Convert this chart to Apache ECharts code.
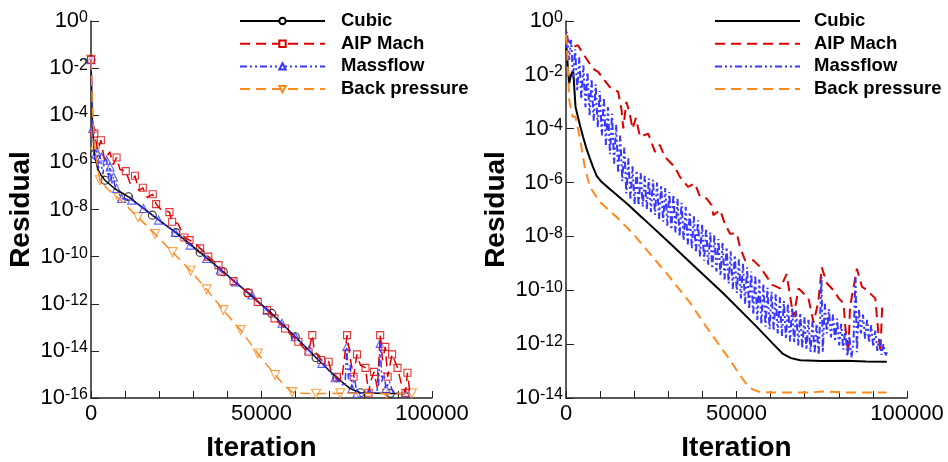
<!DOCTYPE html>
<html><head><meta charset="utf-8">
<script src="https://cdn.jsdelivr.net/npm/echarts@6/dist/echarts.min.js"></script>
<style>html,body{margin:0;padding:0;background:#fff}#c{width:948px;height:462px}</style>
</head><body><div id="c"></div>
<script>
// Each point: [iteration in thousands, log10(residual)]
const xTickLabels = [0, 50000, 100000];
const yTickExponents = [-16, -14, -12, -10, -8, -6, -4, -2, 0];
const legendNames = ['Cubic', 'AIP Mach', 'Massflow', 'Back pressure'];

// ---------- Left panel ----------
const cubicL = [[0,-1.64],[0.4,-4.2],[1.0,-5.66],[2.0,-6.3],[3.0,-6.55],[4.1,-6.76],[7,-7.12],[11,-7.46],[18,-8.24],[24.9,-8.98],[32,-9.82],[38.8,-10.64],[46,-11.54],[53,-12.41],[59.9,-13.4],[66,-14.29],[72.1,-15.14],[76,-15.6],[79,-15.78],[85,-15.8],[92,-15.82]];
const cubicLMarks = [[0,-1.64],[1.0,-5.66],[4.1,-6.76],[11,-7.46],[18,-8.24],[24.9,-8.98],[32,-9.82],[38.8,-10.64],[46,-11.54],[53,-12.41],[59.9,-13.4],[66,-14.29],[72.1,-15.14],[79,-15.78],[87.8,-15.8]];

const aipL = [[0,-1.64],[0.5,-4.2],[1.0,-4.78],[2.0,-5.5],[2.9,-5.06],[4,-5.9],[5.5,-5.55],[6.5,-6.1],[7.5,-5.79],[8.5,-6.3],[10.2,-6.37],[11.5,-6.9],[12.9,-6.57],[14,-7.2],[15.2,-7.08],[16.5,-7.5],[18.1,-7.35],[19.1,-7.77],[20.5,-8.0],[23,-8.11],[23.8,-8.52],[25.5,-8.6],[27.4,-9.19],[28.9,-9.3],[30.5,-9.4],[32,-9.65],[34.4,-10.0],[36,-10.2],[37.4,-10.36],[38.2,-10.64],[40,-10.8],[41.8,-11.04],[44,-11.3],[46.2,-11.54],[48.9,-11.92],[51.6,-12.27],[53.8,-12.62],[56.9,-13.05],[58.5,-13.3],[60.8,-13.61],[62.5,-13.9],[63.8,-14.04],[64.9,-13.33],[65.5,-14.0],[67.5,-14.39],[69.7,-14.46],[70.5,-14.9],[72.1,-15.1],[73.5,-15.3],[75.1,-13.33],[76,-14.3],[77,-15.1],[78,-14.15],[79,-14.6],[80.5,-14.72],[81.4,-15.78],[82,-15.3],[83,-14.89],[84,-15.6],[84.8,-13.33],[85.5,-14.4],[86.3,-13.83],[87,-15.1],[88.3,-14.15],[89.9,-14.72],[91,-15.4],[92.2,-15.78],[92.8,-14.93],[93.5,-15.75]];
const aipLMarks = [[0,-1.64],[1.0,-4.78],[2.9,-5.06],[7.5,-5.79],[10.2,-6.37],[12.9,-6.57],[15.2,-7.08],[18.1,-7.35],[19.1,-7.77],[23,-8.11],[23.8,-8.52],[27.4,-9.19],[28.9,-9.3],[32,-9.65],[34.4,-10.0],[37.4,-10.36],[38.2,-10.64],[41.8,-11.04],[46.2,-11.54],[48.9,-11.92],[51.6,-12.27],[53.8,-12.62],[56.9,-13.05],[60.8,-13.61],[63.8,-14.04],[64.9,-13.33],[67.5,-14.39],[69.7,-14.46],[72.1,-15.1],[75.1,-13.33],[77,-15.1],[78,-14.15],[80.5,-14.72],[81.4,-15.78],[83,-14.89],[84.8,-13.33],[86.3,-13.83],[87,-15.1],[88.3,-14.15],[89.9,-14.72],[92.2,-15.78],[92.8,-14.93]];

const massL = [[0,-1.64],[0.5,-4.56],[1.0,-5.9],[1.5,-5.5],[1.7,-5.55],[2.2,-6.3],[2.6,-5.7],[3.1,-5.77],[3.5,-6.5],[4.0,-5.8],[4.6,-5.91],[5.1,-6.7],[5.6,-6.19],[6.1,-6.9],[6.6,-6.62],[7.0,-7.0],[7.5,-7.11],[9,-7.53],[11.9,-7.6],[15.4,-7.96],[19.8,-8.45],[24.7,-8.97],[29.1,-9.51],[33.9,-10.08],[37.9,-10.57],[42.3,-11.07],[47.2,-11.63],[51.6,-12.27],[56,-12.83],[59.9,-13.4],[63.9,-13.96],[67.7,-14.53],[71.6,-15.14],[73.5,-15.4],[74.5,-15.5],[75,-13.82],[75.5,-15.2],[76,-14.6],[76.5,-15.6],[77.2,-15.1],[78,-15.8],[80,-15.8],[82,-15.7],[83.5,-15.8],[84.3,-15.5],[84.8,-13.68],[85.3,-15.3],[85.9,-14.9],[86.5,-15.6],[87.5,-15.3],[88.5,-15.75],[90,-15.8],[92.2,-15.78],[93,-15.8]];
const massLMarks = [[0,-1.64],[0.5,-4.56],[1.7,-5.55],[3.1,-5.77],[4.6,-5.91],[5.6,-6.19],[6.6,-6.62],[7.5,-7.11],[9,-7.53],[11.9,-7.6],[15.4,-7.96],[19.8,-8.45],[24.7,-8.97],[29.1,-9.51],[33.9,-10.08],[37.9,-10.57],[42.3,-11.07],[47.2,-11.63],[51.6,-12.27],[56,-12.83],[59.9,-13.4],[63.9,-13.96],[67.7,-14.53],[71.6,-15.14],[75,-13.82],[76.5,-15.6],[78,-15.8],[84.8,-13.68],[86.5,-15.6],[92.2,-15.78]];

const backL = [[0,-1.64],[0.5,-4.0],[1.2,-5.55],[2.6,-6.76],[5,-7.15],[8,-7.5],[13.8,-8.33],[18.8,-9.04],[23.9,-9.81],[29.2,-10.6],[33.9,-11.39],[38.8,-12.27],[43.9,-13.12],[48.9,-14.11],[54,-15.03],[57,-15.5],[59,-15.75],[62,-15.8],[66,-15.82],[73.1,-15.8],[79.5,-15.8],[86.7,-15.82],[94.1,-15.8]];
const backLMarks = [[0,-1.64],[1.2,-5.55],[2.6,-6.76],[8,-7.5],[13.8,-8.33],[18.8,-9.04],[23.9,-9.81],[29.2,-10.6],[33.9,-11.39],[38.8,-12.27],[43.9,-13.12],[48.9,-14.11],[54,-15.03],[59,-15.75],[66,-15.82],[73.1,-15.8],[86.7,-15.82],[94.1,-15.8]];

// ---------- Right panel ----------
const cubicR = [[0,-0.75],[0.3,-0.72],[0.9,-2.32],[1.5,-2.0],[2.1,-1.83],[2.8,-3.19],[4.2,-3.93],[5.0,-4.3],[6.0,-4.74],[7.0,-5.1],[7.9,-5.42],[9,-5.75],[10.4,-5.97],[12,-6.15],[13.8,-6.34],[18,-6.8],[22.6,-7.33],[30,-8.2],[36.3,-8.95],[46.1,-10.11],[55.9,-11.35],[60.8,-12.0],[63.5,-12.35],[66,-12.52],[68.7,-12.6],[75,-12.63],[82,-12.62],[88,-12.64],[94.1,-12.65]];

const aipR = [[0,-0.5],[0.3,-0.65],[2.0,-0.96],[3.5,-0.9],[5.0,-1.21],[7.9,-1.77],[9.5,-1.9],[10.9,-2.14],[12.8,-2.45],[15.3,-2.63],[16.3,-3.31],[16.8,-3.99],[17.7,-3.0],[18.7,-3.44],[19.5,-4.0],[20.5,-3.6],[21.7,-4.3],[24.1,-4.18],[26.1,-4.86],[27.5,-4.6],[29.0,-5.05],[31.9,-5.42],[33.4,-5.79],[35.8,-6.16],[37.8,-6.03],[39.3,-6.53],[41.2,-6.59],[42.7,-6.84],[43.2,-7.21],[45.2,-7.02],[46.5,-7.5],[48.1,-7.9],[50.1,-7.89],[51,-8.39],[52.5,-8.88],[54.9,-8.88],[56.9,-9.13],[58.9,-9.5],[60.5,-9.8],[62.8,-9.93],[64.7,-9.4],[66.7,-11.0],[68.2,-9.93],[71.1,-10.3],[72.6,-11.2],[74.0,-10.43],[75.0,-9.15],[76.5,-9.74],[78.4,-9.99],[80,-10.3],[81.4,-10.49],[81.9,-11.35],[82.8,-12.34],[83.3,-10.61],[85.3,-9.2],[86.8,-9.87],[88.2,-9.99],[89.7,-10.18],[90.7,-10.3],[91.7,-11.73],[92.2,-12.3],[92.7,-10.67],[93.1,-10.55]];

const massR = [[0,-1.0],[0.3,-0.4],[0.9,-1.45],[1.5,-0.7],[2.1,-2.1],[2.7,-1.05],[3.3,-2.6],[3.9,-1.35],[4.5,-2.9],[5.1,-1.65],[5.7,-3.2],[6.3,-1.9],[6.9,-3.5],[7.5,-2.15],[8.1,-3.7],[8.7,-2.35],[9.3,-3.95],[9.9,-2.6],[10.5,-4.25],[11.1,-2.85],[11.7,-4.6],[12.3,-3.2],[12.9,-4.95],[13.5,-3.45],[14.1,-5.3],[14.7,-3.85],[15.3,-5.65],[15.9,-4.25],[16.5,-5.95],[17.1,-4.7],[17.7,-6.4],[18.3,-5.1],[18.9,-6.65],[19.5,-5.4],[20.1,-6.8],[20.7,-5.55],[21.3,-6.85],[21.9,-5.65],[22.5,-6.9],[23.1,-5.75],[23.7,-7.0],[24.3,-5.85],[24.9,-7.1],[25.5,-5.9],[26.1,-7.2],[26.7,-6.0],[27.3,-7.35],[27.9,-6.1],[28.5,-7.45],[29.1,-6.2],[29.7,-7.6],[30.3,-6.35],[30.9,-7.75],[31.5,-6.45],[32.1,-7.85],[32.7,-6.6],[33.3,-8.0],[33.9,-6.75],[34.5,-8.15],[35.1,-6.9],[35.7,-8.3],[36.3,-7.1],[36.9,-8.45],[37.5,-7.25],[38.1,-8.6],[38.7,-7.4],[39.3,-8.75],[39.9,-7.55],[40.5,-8.9],[41.1,-7.7],[41.7,-9.05],[42.3,-7.85],[42.9,-9.2],[43.5,-7.95],[44.1,-9.3],[44.7,-8.1],[45.3,-9.45],[45.9,-8.25],[46.5,-9.6],[47.1,-8.4],[47.7,-9.75],[48.3,-8.55],[48.9,-9.95],[49.5,-8.7],[50.1,-10.1],[50.7,-8.85],[51.3,-10.3],[51.9,-9.0],[52.5,-10.5],[53.1,-9.15],[53.7,-10.7],[54.3,-9.3],[54.9,-10.9],[55.5,-9.45],[56.1,-11.1],[56.7,-9.6],[57.3,-11.25],[57.9,-9.75],[58.5,-11.35],[59.1,-9.9],[59.7,-11.45],[60.3,-10.05],[60.9,-11.5],[61.5,-10.15],[62.1,-11.6],[62.7,-10.25],[63.3,-11.7],[63.9,-10.4],[64.5,-11.8],[65.1,-10.5],[65.7,-11.9],[66.3,-10.65],[66.9,-11.95],[67.5,-10.75],[68.1,-12.05],[68.7,-10.85],[69.3,-12.15],[69.9,-11.0],[70.5,-12.2],[71.1,-11.1],[71.7,-12.3],[72.3,-11.15],[72.9,-12.35],[73.5,-11.25],[74.1,-12.4],[74.6,-10.8],[74.9,-9.5],[75.3,-12.3],[75.9,-10.5],[76.5,-11.6],[77.1,-10.7],[77.7,-11.75],[78.3,-10.9],[78.9,-11.9],[79.5,-11.05],[80.1,-12.05],[80.7,-11.25],[81.3,-12.2],[81.9,-11.45],[82.5,-12.45],[83.1,-11.7],[83.7,-12.5],[84.3,-11.9],[84.9,-9.5],[85.3,-12.3],[85.9,-10.7],[86.5,-11.6],[87.1,-10.9],[87.7,-11.8],[88.3,-11.1],[88.9,-11.95],[89.5,-11.3],[90.1,-12.1],[90.7,-11.5],[91.3,-12.25],[91.9,-11.75],[92.5,-12.4],[93.1,-12.0],[93.7,-12.45],[94.1,-12.3]];

const backR = [[0,-0.5],[0.4,-1.3],[0.9,-2.9],[1.9,-3.56],[2.8,-3.56],[4.2,-4.43],[5.5,-5.42],[7.0,-6.16],[9.9,-6.72],[15.3,-7.33],[20,-7.95],[25,-8.7],[30,-9.45],[36.3,-10.45],[42.2,-11.55],[48.1,-12.59],[51,-13.15],[53,-13.5],[55,-13.7],[57,-13.78],[60.8,-13.8],[70,-13.8],[76,-13.76],[82,-13.8],[90,-13.8],[94,-13.8]];

// ---------- Rendering ----------
const F = '"Liberation Sans", Arial, Helvetica, sans-serif';
const COL = { cubic: '#000000', aip: '#dd0000', mass: '#3636ff', back: '#ff8a1c' };
const DASH = { cubic: 'solid', aip: [10, 6], mass: [7, 3, 2, 3, 2, 3], back: [10, 6] };
const pts = a => a.map(p => [p[0] * 1000, p[1]]);

const chart = echarts.init(document.getElementById('c'), null, { renderer: 'canvas' });

function xAxis(gi) {
  return {
    gridIndex: gi, type: 'value', min: 0, max: 100000, interval: 10000,
    axisLine: { show: true, onZero: false, lineStyle: { color: '#222', width: 1.5 } },
    axisTick: { show: true, inside: true, length: 7, lineStyle: { color: '#222', width: 1 } },
    splitLine: { show: false },
    axisLabel: {
      show: true, margin: 5, color: '#000', fontSize: 22, fontFamily: F,
      formatter: v => xTickLabels.indexOf(v) >= 0 ? String(v) : ''
    },
    name: 'Iteration', nameLocation: 'middle', nameGap: 36,
    nameTextStyle: { fontSize: 28, fontWeight: 'bold', color: '#000', fontFamily: F }
  };
}
function yAxis(gi, minExp) {
  return {
    gridIndex: gi, type: 'value', min: minExp, max: 0, interval: 2,
    axisLine: { show: true, onZero: false, lineStyle: { color: '#222', width: 1.5 } },
    axisTick: { show: true, inside: true, length: 8, lineStyle: { color: '#222', width: 1 } },
    splitLine: { show: false },
    axisLabel: {
      show: true, margin: 3, fontFamily: F,
      formatter: v => yTickExponents.indexOf(v) >= 0 ? '{b|10}{s|' + v + '}' : '',
      rich: {
        b: { fontSize: 22, lineHeight: 22, color: '#000', fontFamily: F },
        s: { fontSize: 16, lineHeight: 16, verticalAlign: 'top', color: '#000', fontFamily: F }
      }
    },
    name: 'Residual', nameLocation: 'middle', nameGap: 56, nameRotate: 90,
    nameTextStyle: { fontSize: 28, fontWeight: 'bold', color: '#000', fontFamily: F }
  };
}
function lineS(name, key, data, gi, sym, rot, width) {
  return {
    name: name, type: 'line', xAxisIndex: gi, yAxisIndex: gi, data: pts(data),
    showSymbol: false, symbol: sym, symbolRotate: rot || 0, symbolSize: 7,
    lineStyle: { color: COL[key], width: width, type: DASH[key] },
    itemStyle: { color: '#fff', borderColor: COL[key], borderWidth: 1.2 },
    silent: true, animation: false, clip: true
  };
}
function markS(name, key, data, sym, rot, size) {
  return {
    name: name, type: 'scatter', xAxisIndex: 0, yAxisIndex: 0, data: pts(data),
    symbol: sym, symbolRotate: rot || 0, symbolSize: size,
    itemStyle: { color: 'rgba(255,255,255,0.6)', borderColor: COL[key], borderWidth: 1.1 },
    silent: true, animation: false
  };
}

const R = '|R';
const legendBase = {
  orient: 'vertical', top: 11, padding: 0, itemWidth: 85, itemHeight: 8, itemGap: 2.7,
  selectedMode: false,
  textStyle: { fontSize: 18.5, fontWeight: 'bold', color: '#000', fontFamily: F, lineHeight: 20, padding: [0, 0, 0, 11] }
};

chart.setOption({
  animation: false,
  backgroundColor: '#fff',
  grid: [
    { left: 91, top: 21, width: 341, height: 377, containLabel: false, outerBoundsMode: 'none' },
    { left: 566, top: 21, width: 341, height: 377, containLabel: false, outerBoundsMode: 'none' }
  ],
  xAxis: [xAxis(0), xAxis(1)],
  yAxis: [yAxis(0, -16), yAxis(1, -14)],
  legend: [
    Object.assign({}, legendBase, { left: 239, data: legendNames.slice() }),
    Object.assign({}, legendBase, {
      left: 714, data: legendNames.map(n => n + R),
      itemStyle: { opacity: 0 },
      formatter: n => n.split('|')[0],
      textStyle: Object.assign({}, legendBase.textStyle, { padding: [0, 0, 0, 9] })
    })
  ],
  series: [
    lineS('Cubic', 'cubic', cubicL, 0, 'circle', 0, 1.5),
    lineS('AIP Mach', 'aip', aipL, 0, 'rect', 0, 1.5),
    lineS('Massflow', 'mass', massL, 0, 'triangle', 0, 1.5),
    lineS('Back pressure', 'back', backL, 0, 'triangle', 180, 1.5),
    markS('Back pressure', 'back', backLMarks, 'triangle', 180, 9),
    markS('Cubic', 'cubic', cubicLMarks, 'circle', 0, 8),
    markS('Massflow', 'mass', massLMarks, 'triangle', 0, 8),
    markS('AIP Mach', 'aip', aipLMarks, 'rect', 0, 7),
    lineS('Cubic' + R, 'cubic', cubicR, 1, 'none', 0, 2),
    lineS('AIP Mach' + R, 'aip', aipR, 1, 'none', 0, 2),
    lineS('Massflow' + R, 'mass', massR, 1, 'none', 0, 2),
    lineS('Back pressure' + R, 'back', backR, 1, 'none', 0, 2)
  ]
});
</script></body></html>
